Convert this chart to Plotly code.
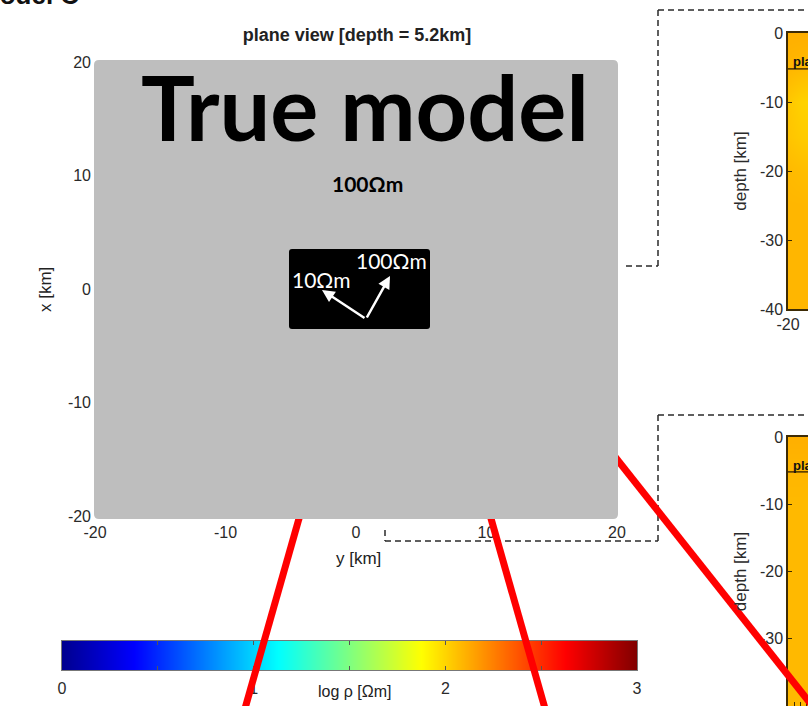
import math
import plotly.graph_objects as go

W, H = 808, 706

# ---- plane view (true model) ----
PLANE_TICKS = [-20, -10, 0, 10, 20]
PLANE_TICK_TEXT = ["-20", "-10", "0", "10", "20"]
PLANE_DEPTH_KM = 5.2
BACKGROUND_RHO = 100          # Ohm-m
BLOCK_RHO = [10, 100]         # Ohm-m, the two resistivities inside the block

# ---- colour bar ----
LOGRHO_TICKS = [0, 1, 2, 3]
LOGRHO_MINOR = [0, 0.5, 1, 1.5, 2, 2.5, 3]
LOGRHO_LABELS = ["0", "", "1", "", "2", "", "3"]

# ---- depth sections, log10(rho) on a coarse grid ----
SECTION_Y = [-20, -19, -18]
SECTION_DEPTH = [0, -5, -10, -15, -20, -25, -30, -35, -40]
DEPTH_TICKS = [0, -10, -20, -30, -40]
DEPTH_TICK_TEXT = ["0", "-10", "-20", "-30", "-40"]
SECTION_TOP = [
    [2.11, 2.11, 2.11],
    [2.09, 2.08, 2.07],
    [2.04, 2.01, 2.00],
    [2.05, 2.03, 2.02],
    [2.08, 2.07, 2.06],
    [2.09, 2.09, 2.08],
    [2.09, 2.09, 2.09],
    [2.09, 2.09, 2.09],
    [2.09, 2.09, 2.09],
]
SECTION_BOTTOM = [
    [2.11, 2.11, 2.11],
    [2.09, 2.09, 2.09],
    [2.08, 2.08, 2.07],
    [2.08, 2.08, 2.08],
    [2.08, 2.08, 2.08],
    [2.08, 2.08, 2.08],
    [2.08, 2.08, 2.08],
    [2.08, 2.08, 2.08],
    [2.08, 2.08, 2.08],
]

JET = [[0, "#00008f"], [0.125, "#0000ff"], [0.375, "#00ffff"],
       [0.625, "#ffff00"], [0.875, "#ff0000"], [1, "#800000"]]

SANS = "Liberation Sans, Arial, sans-serif"
SLIDE = "Lato, Open Sans, sans-serif"
TICK_FONT = dict(family=SANS, size=16, color="#2a2a2a")


def fx(p):
    return p / W


def fy(p):
    return 1 - p / H


def rounded_rect(x0, y0, x1, y1, r):
    pts = [
        ("M", [(x0 + r, y0)]), ("L", [(x1 - r, y0)]), ("Q", [(x1, y0), (x1, y0 + r)]),
        ("L", [(x1, y1 - r)]), ("Q", [(x1, y1), (x1 - r, y1)]),
        ("L", [(x0 + r, y1)]), ("Q", [(x0, y1), (x0, y1 - r)]),
        ("L", [(x0, y0 + r)]), ("Q", [(x0, y0), (x0 + r, y0)]),
    ]
    out = []
    for cmd, coords in pts:
        out.append(cmd + " " + " ".join(f"{fx(a):.5f},{fy(b):.5f}" for a, b in coords))
    return " ".join(out) + " Z"


fig = go.Figure()

# plane view: homogeneous background (covered by the slide panel)
bg = math.log10(BACKGROUND_RHO)
fig.add_trace(go.Heatmap(x=[-20, 20], y=[-20, 20], z=[[bg, bg], [bg, bg]],
                         colorscale=JET, zmin=0, zmax=3, showscale=False,
                         xaxis="x", yaxis="y", hoverinfo="skip"))

# colour bar drawn as a smooth strip
fig.add_trace(go.Heatmap(x=LOGRHO_TICKS, y=[0, 1], z=[LOGRHO_TICKS, LOGRHO_TICKS],
                         zsmooth="best", colorscale=JET, zmin=0, zmax=3,
                         showscale=False, xaxis="x3", yaxis="y3", hoverinfo="skip"))

# depth sections
for z, xa, ya in [(SECTION_TOP, "x4", "y4"), (SECTION_BOTTOM, "x5", "y5")]:
    fig.add_trace(go.Heatmap(x=SECTION_Y, y=SECTION_DEPTH, z=z, zsmooth="best",
                             colorscale=JET, zmin=0, zmax=3, showscale=False,
                             xaxis=xa, yaxis=ya, hoverinfo="skip"))

plain = dict(showgrid=False, zeroline=False)
frame = dict(showline=True, mirror=True, linecolor="#3d2b05", linewidth=1.5,
             ticks="inside", ticklen=4, tickcolor="#3d2b05")
depth_title = dict(text="depth [km]", standoff=9,
                   font=dict(family=SANS, size=17, color="#2a2a2a"))

layout = dict(
    width=W, height=H,
    margin=dict(l=0, r=0, t=0, b=0, autoexpand=False),
    paper_bgcolor="white", plot_bgcolor="white", showlegend=False,
    title=dict(text=f"<b>plane view [depth = {PLANE_DEPTH_KM}km]</b>",
               x=fx(357), y=fy(35), xanchor="center", yanchor="middle",
               xref="paper", yref="paper",
               font=dict(family=SANS, size=18, color="#222")),
    xaxis=dict(domain=[fx(95), fx(617)], range=[-20, 20], tickvals=PLANE_TICKS,
               ticktext=PLANE_TICK_TEXT, ticks="", showline=False,
               ticklabelstandoff=5, tickfont=TICK_FONT, anchor="y", **plain),
    yaxis=dict(domain=[fy(516), fy(62)], range=[-20, 20], tickvals=PLANE_TICKS,
               ticktext=PLANE_TICK_TEXT, ticks="", showline=False,
               ticklabelstandoff=3, tickfont=TICK_FONT, anchor="x", **plain),
    xaxis3=dict(domain=[fx(62), fx(637)], range=[0, 3], tickvals=LOGRHO_MINOR,
                ticktext=LOGRHO_LABELS, ticks="inside", ticklen=4, tickcolor="#555",
                showline=True, mirror="ticks", linecolor="#777", linewidth=1,
                tickfont=TICK_FONT, ticklabelstandoff=4, anchor="y3", **plain),
    yaxis3=dict(domain=[fy(670), fy(641)], range=[0, 1], showticklabels=False,
                ticks="", showline=True, mirror=True, linecolor="#777",
                anchor="x3", **plain),
    xaxis4=dict(domain=[fx(788), 1], range=[-20, -18.4], tickvals=[-20],
                ticktext=["-20"], tickfont=TICK_FONT, anchor="y4", **frame, **plain),
    yaxis4=dict(domain=[fy(309), fy(33)], range=[-40, 0], tickvals=DEPTH_TICKS,
                ticktext=DEPTH_TICK_TEXT, tickfont=TICK_FONT, anchor="x4",
                title=depth_title, **frame, **plain),
    xaxis5=dict(domain=[fx(788), 1], range=[-20, -18.4], showticklabels=False,
                anchor="y5", **frame, **plain),
    yaxis5=dict(domain=[0, fy(437)], range=[-40.1, 0], tickvals=DEPTH_TICKS,
                ticktext=DEPTH_TICK_TEXT, tickfont=TICK_FONT, anchor="x5",
                title=depth_title, **frame, **plain),
)
fig.update_layout(**layout)

shapes = []
dash = dict(color="#2a2a2a", width=1.5, dash="6px,4px")


def seg(x0, y0, x1, y1, line):
    shapes.append(dict(type="line", xref="paper", yref="paper", layer="above",
                       x0=fx(x0), y0=fy(y0), x1=fx(x1), y1=fy(y1), line=line))


# dashed outlines around the section panels
seg(658, 10, 658, 266, dash)
seg(658, 10, 820, 10, dash)
seg(626, 266, 658, 266, dash)
seg(658, 415, 658, 541, dash)
seg(658, 415, 820, 415, dash)
seg(385, 541, 658, 541, dash)
seg(385, 530, 385, 541, dash)

# plane-view depth marker in each section
for xa, ya in [("x4", "y4"), ("x5", "y5")]:
    shapes.append(dict(type="line", xref=xa, yref=ya, layer="above",
                       x0=-20, x1=-18.4, y0=-PLANE_DEPTH_KM, y1=-PLANE_DEPTH_KM,
                       line=dict(color="#4a3000", width=1.5)))

# red guide lines
red = dict(color="#ff0000", width=7)
seg(300, 515, 244, 712, red)
seg(490, 515, 546, 712, red)
seg(612, 453, 814, 708, red)

# slide panel over the plane view
shapes.append(dict(type="path", xref="paper", yref="paper", layer="above",
                   path=rounded_rect(94, 60, 618, 519, 5),
                   fillcolor="#bebebe", line=dict(width=0)))
# conductive block
shapes.append(dict(type="path", xref="paper", yref="paper", layer="above",
                   path=rounded_rect(289, 249, 430, 329, 3),
                   fillcolor="#000000", line=dict(width=0)))
fig.update_layout(shapes=shapes)

ann = []


def text(t, x, y, size, family=SANS, color="#222", xanchor="center", angle=0):
    ann.append(dict(text=t, x=fx(x), y=fy(y), xref="paper", yref="paper",
                    xanchor=xanchor, yanchor="middle", showarrow=False,
                    textangle=angle, font=dict(family=family, size=size, color=color)))


text("<b>Model C</b>", 81, -5, 26, color="#111", xanchor="right")
text("<b>True model</b>", 365, 106, 90, family=SLIDE, color="#000")
text(f"<b>{BACKGROUND_RHO}Ωm</b>", 367, 184, 21, family=SLIDE, color="#000")
text(f"{BLOCK_RHO[0]}Ωm", 321, 279, 21, family=SLIDE, color="#fff")
text(f"{BLOCK_RHO[1]}Ωm", 391, 261, 21, family=SLIDE, color="#fff")
text("y [km]", 358, 558, 17)
text("x [km]", 45, 290, 17, angle=-90)
text("log ρ [Ωm]", 355, 691, 16)
text("<b>plane view</b>", 791, 61, 13, color="#111", xanchor="left")
text("<b>plane view</b>", 791, 465, 13, color="#111", xanchor="left")

# arrows from a common point to the two resistivity labels
for hx, hy in [(322, 290), (390, 276)]:
    ann.append(dict(text="", x=fx(hx), y=fy(hy), xref="paper", yref="paper",
                    ax=366 - hx, ay=319 - hy, showarrow=True, arrowhead=2,
                    arrowsize=1, arrowwidth=2.5, arrowcolor="#fff"))

fig.update_layout(annotations=ann)

fig.write_html("out.html")
